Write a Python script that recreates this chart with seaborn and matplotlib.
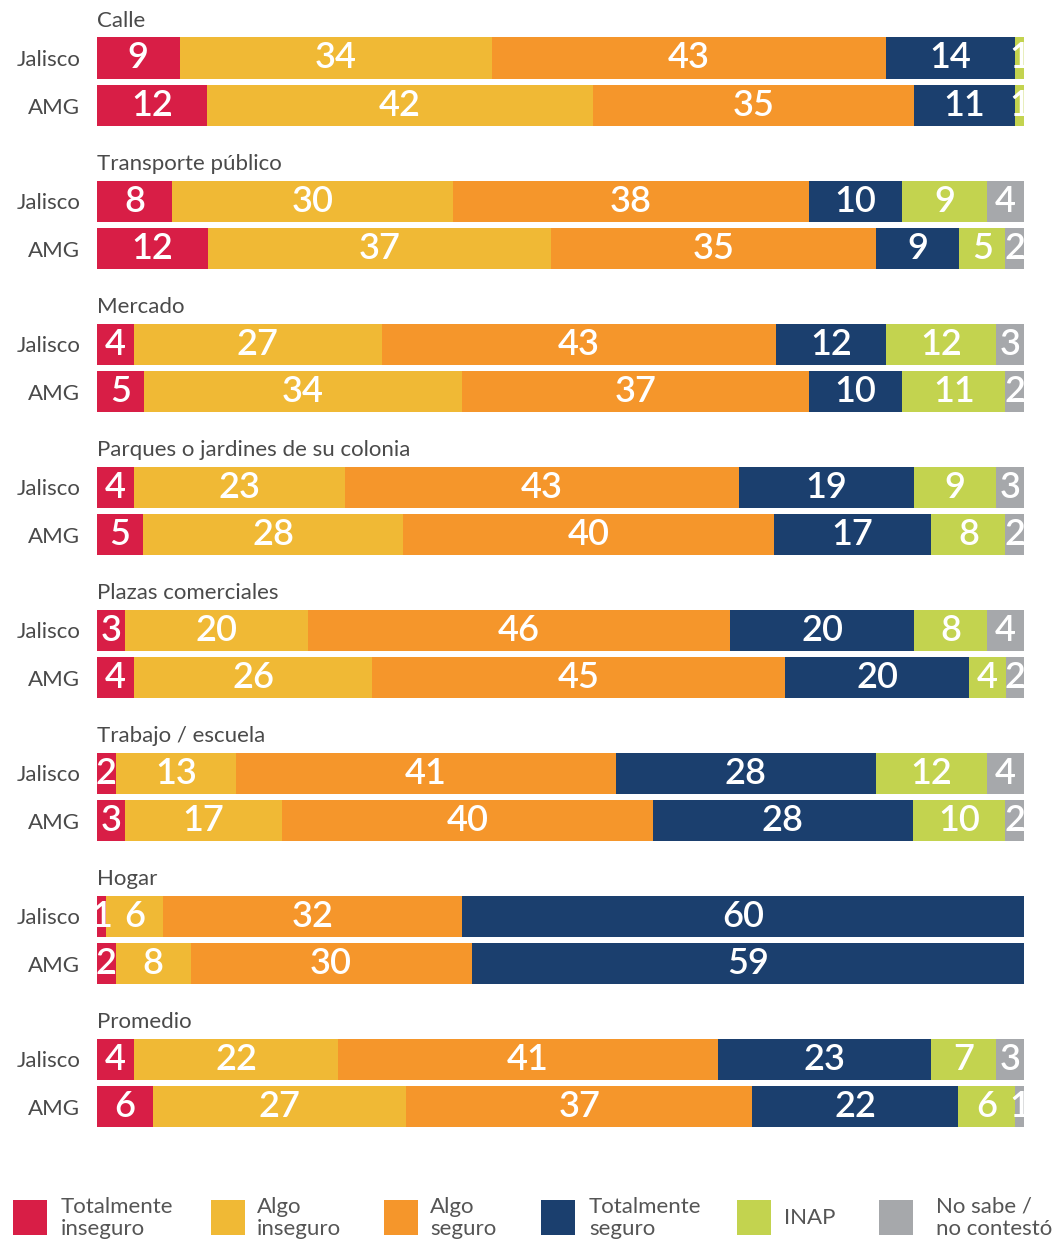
import numpy as np
import pandas as pd
import matplotlib
matplotlib.use("Agg")
import matplotlib.pyplot as plt
from matplotlib.patches import Rectangle
import seaborn as sns

# Places asked about, each with a Jalisco row and an AMG row
groups = ["Calle", "Transporte público", "Mercado",
          "Parques o jardines de su colonia", "Plazas comerciales",
          "Trabajo / escuela", "Hogar", "Promedio"]
regions = ["Jalisco", "AMG"]

categories = ["Totalmente\ninseguro", "Algo\ninseguro", "Algo\nseguro",
              "Totalmente\nseguro", "INAP", "No sabe /\nno contestó"]

# Percentages per row (Jalisco, AMG for each place, in order)
totalmente_inseguro = [9, 12, 8, 12, 4, 5, 4, 5, 3, 4, 2, 3, 1, 2, 4, 6]
algo_inseguro = [34, 42, 30, 37, 27, 34, 23, 28, 20, 26, 13, 17, 6, 8, 22, 27]
algo_seguro = [43, 35, 38, 35, 43, 37, 43, 40, 46, 45, 41, 40, 32, 30, 41, 37]
totalmente_seguro = [14, 11, 10, 9, 12, 10, 19, 17, 20, 20, 28, 28, 60, 59, 23, 22]
inap = [1, 1, 9, 5, 12, 11, 9, 8, 8, 4, 12, 10, 0, 0, 7, 6]
no_sabe = [0, 0, 4, 2, 3, 2, 3, 2, 4, 2, 4, 2, 0, 0, 3, 1]

colors = ["#D81E46", "#F0B935", "#F5962B", "#1B3F6E", "#C3D34F", "#A6A8AB"]

sns.set_theme(style="white")
plt.rcParams["font.family"] = ["Lato", "DejaVu Sans"]

values = np.array([totalmente_inseguro, algo_inseguro, algo_seguro,
                   totalmente_seguro, inap, no_sabe]).T
# each row stretched to the full width
shares = values / values.sum(axis=1, keepdims=True) * 100
cum = np.cumsum(shares, axis=1)

pos = np.array([3 * g + r for g in range(len(groups)) for r in range(2)], dtype=float)
row_region = [regions[r] for g in range(len(groups)) for r in range(2)]

W, H = 1060, 1242
fig = plt.figure(figsize=(W / 100, H / 100), dpi=100)
ax_bottom_px = 1150
ax = fig.add_axes([97 / W, 1 - ax_bottom_px / H, 927 / W, ax_bottom_px / H])

# stacked bars: draw cumulative totals from the widest down
for k in reversed(range(len(categories))):
    df = pd.DataFrame({"x": cum[:, k], "y": pos})
    sns.barplot(data=df, x="x", y="y", orient="y", native_scale=True,
                color=colors[k], saturation=1, width=0.86, errorbar=None,
                linewidth=0, ax=ax)

for i in range(len(pos)):
    for k in range(len(categories)):
        v = values[i, k]
        if v <= 0:
            continue
        ax.text(cum[i, k] - shares[i, k] / 2, pos[i], str(v),
                ha="center", va="center", color="white", fontsize=26,
                fontweight="semibold", clip_on=False)

for g, name in enumerate(groups):
    ax.text(0.0, 3 * g - 0.78, name, ha="left", va="center",
            fontsize=16, color="#4a4a4a")

px_per_unit = 47.68
top_u = -58 / px_per_unit
bot_u = (ax_bottom_px - 58) / px_per_unit
ax.set_ylim(bot_u, top_u)
ax.set_xlim(0, 100)
ax.set_yticks(pos)
ax.set_yticklabels(row_region)
ax.tick_params(axis="y", length=0, pad=12, labelsize=16, labelcolor="#4a4a4a")
ax.set_xticks([])
ax.set_xlabel("")
ax.set_ylabel("")
for s in ax.spines.values():
    s.set_visible(False)

# legend row along the bottom
sq_x = [13, 211, 384, 541, 737, 879]
txt_x = [61, 257, 430, 589, 784, 936]
for k, lab in enumerate(categories):
    fig.add_artist(Rectangle((sq_x[k] / W, 1 - 1235 / H), 34 / W, 35 / H,
                             transform=fig.transFigure, color=colors[k], lw=0))
    fig.text(txt_x[k] / W, 1 - 1218 / H, lab, ha="left", va="center",
             fontsize=16, color="#555555", linespacing=1.15)

fig.savefig("out.png", dpi=100)
